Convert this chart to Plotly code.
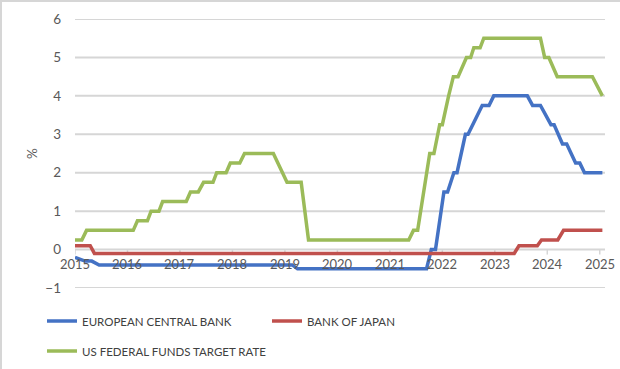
import plotly.graph_objects as go

# ---- data (decimal years, percent) ----
ecb_x = [2015.0, 2015.19, 2015.32, 2015.46, 2019.14, 2019.24, 2021.70, 2021.79, 2021.87,
         2022.03, 2022.10, 2022.22, 2022.28, 2022.44, 2022.49, 2022.76, 2022.89, 2022.98,
         2023.62, 2023.72, 2023.87, 2024.07, 2024.13, 2024.29, 2024.37, 2024.54, 2024.62,
         2024.71, 2025.05]
ecb_y = [-0.2, -0.3, -0.3, -0.4, -0.4, -0.5, -0.5, 0.0, 0.0,
         1.5, 1.5, 2.0, 2.0, 3.0, 3.0, 3.75, 3.75, 4.0,
         4.0, 3.75, 3.75, 3.25, 3.25, 2.75, 2.75, 2.25, 2.25,
         2.0, 2.0]

boj_x = [2015.0, 2015.29, 2015.37, 2023.37, 2023.46, 2023.81, 2023.89, 2024.20, 2024.31, 2025.05]
boj_y = [0.1, 0.1, -0.1, -0.1, 0.1, 0.1, 0.25, 0.25, 0.5, 0.5]

fed_x = [2015.0, 2015.13, 2015.22, 2016.11, 2016.19, 2016.38, 2016.45, 2016.60, 2016.67,
         2017.12, 2017.20, 2017.35, 2017.45, 2017.63, 2017.70, 2017.88, 2017.96, 2018.14,
         2018.23, 2018.78, 2019.04, 2019.31, 2019.45, 2021.36, 2021.45, 2021.53, 2021.76,
         2021.84, 2021.95, 2022.00, 2022.12, 2022.21, 2022.30, 2022.46, 2022.54, 2022.60,
         2022.72, 2022.79, 2023.87, 2023.95, 2024.03, 2024.19, 2024.86, 2025.05]
fed_y = [0.25, 0.25, 0.5, 0.5, 0.75, 0.75, 1.0, 1.0, 1.25,
         1.25, 1.5, 1.5, 1.75, 1.75, 2.0, 2.0, 2.25, 2.25,
         2.5, 2.5, 1.75, 1.75, 0.25, 0.25, 0.5, 0.5, 2.5,
         2.5, 3.25, 3.25, 4.0, 4.5, 4.5, 5.0, 5.0, 5.25,
         5.25, 5.5, 5.5, 5.0, 5.0, 4.5, 4.5, 4.0]

year_ticks = [2015, 2016, 2017, 2018, 2019, 2020, 2021, 2022, 2023, 2024, 2025]
year_labels = ["2015", "2016", "2017", "2018", "2019", "2020", "2021", "2022", "2023", "2024", "2025"]
y_ticks = [-1, 0, 1, 2, 3, 4, 5, 6]

names = ["EUROPEAN CENTRAL BANK", "BANK OF JAPAN", "US FEDERAL FUNDS TARGET RATE"]
colors = ["#4472C4", "#C0504D", "#9BBB59"]

W, H = 620, 369
ML, MR, MT, MB = 75, 15, 19, 81
PW, PH = W - ML - MR, H - MT - MB
ymin, ymax = -1, 6
xmin, xmax = 2015, 2025.1
GRID = "#d6d6d6"

FONT = "Lato, 'Open Sans', sans-serif"

def px_x(p):
    return (p - ML) / PW

def px_y(p):
    return (H - MB - p) / PH

tick_len = 5 * (ymax - ymin) / PH  # 5 px in data units

fig = go.Figure()

# horizontal gridlines at each y tick (drawn first, beneath the data)
gx, gy = [], []
for v in y_ticks:
    gx += [xmin, xmax, None]
    gy += [v, v, None]
fig.add_trace(go.Scatter(x=gx, y=gy, mode="lines", line=dict(color=GRID, width=2),
                         hoverinfo="skip", showlegend=False, cliponaxis=False))

# small tick marks hanging below the zero line at each year
tx, ty = [], []
for t in year_ticks:
    tx += [t, t, None]
    ty += [0, -tick_len, None]
fig.add_trace(go.Scatter(x=tx, y=ty, mode="lines", line=dict(color=GRID, width=1.5),
                         hoverinfo="skip", showlegend=False, cliponaxis=False))

fig.add_trace(go.Scatter(x=ecb_x, y=ecb_y, mode="lines", name=names[0],
                         line=dict(color=colors[0], width=3.5), legend="legend"))
fig.add_trace(go.Scatter(x=boj_x, y=boj_y, mode="lines", name=names[1],
                         line=dict(color=colors[1], width=3.5), legend="legend"))
fig.add_trace(go.Scatter(x=fed_x, y=fed_y, mode="lines", name=names[2],
                         line=dict(color=colors[2], width=3.5), legend="legend2"))

shapes = [
    dict(type="rect", xref="paper", yref="paper",
         x0=px_x(1), x1=px_x(W + 5), y0=px_y(H + 5), y1=px_y(1),
         line=dict(color=GRID, width=2), fillcolor="rgba(0,0,0,0)", layer="below"),
]

# year labels sitting just under the zero line (axis crosses at 0)
annotations = [dict(x=t, y=0, xref="x", yref="y", text=lab, showarrow=False,
                    xanchor="center", yanchor="middle", yshift=-14,
                    font=dict(family=FONT, size=13, color="#595959"))
               for t, lab in zip(year_ticks, year_labels)]

fig.update_layout(
    template="none",
    width=W, height=H,
    margin=dict(l=ML, r=MR, t=MT, b=MB, pad=0, autoexpand=False),
    paper_bgcolor="white", plot_bgcolor="white",
    font=dict(family=FONT, size=13, color="#595959"),
    hovermode=False,
    xaxis=dict(
        range=[xmin, xmax], tickmode="array", tickvals=year_ticks,
        showgrid=False, zeroline=False, showline=False, showticklabels=False,
        ticks="", automargin=False,
    ),
    yaxis=dict(
        range=[ymin, ymax], tickmode="array", tickvals=y_ticks,
        showgrid=False, zeroline=False,
        showline=False, ticks="", ticklabelstandoff=13, automargin=False,
        tickfont=dict(size=13.5, color="#595959"),
        title=dict(text="%", standoff=4, font=dict(size=13.5, color="#595959")),
    ),
    legend=dict(orientation="h", x=px_x(42), y=px_y(321), xanchor="left", yanchor="middle",
                font=dict(size=11.5, color="#404040", family=FONT),
                entrywidth=180, entrywidthmode="pixels", bgcolor="rgba(0,0,0,0)",
                itemwidth=30),
    legend2=dict(orientation="h", x=px_x(42), y=px_y(351), xanchor="left", yanchor="middle",
                 font=dict(size=11.5, color="#404040", family=FONT), bgcolor="rgba(0,0,0,0)",
                 itemwidth=30),
    shapes=shapes,
    annotations=annotations,
)

fig.write_html("out.html",
               config={"displayModeBar": False},
               post_script="document.body.style.margin='0';document.body.style.overflow='hidden';")
